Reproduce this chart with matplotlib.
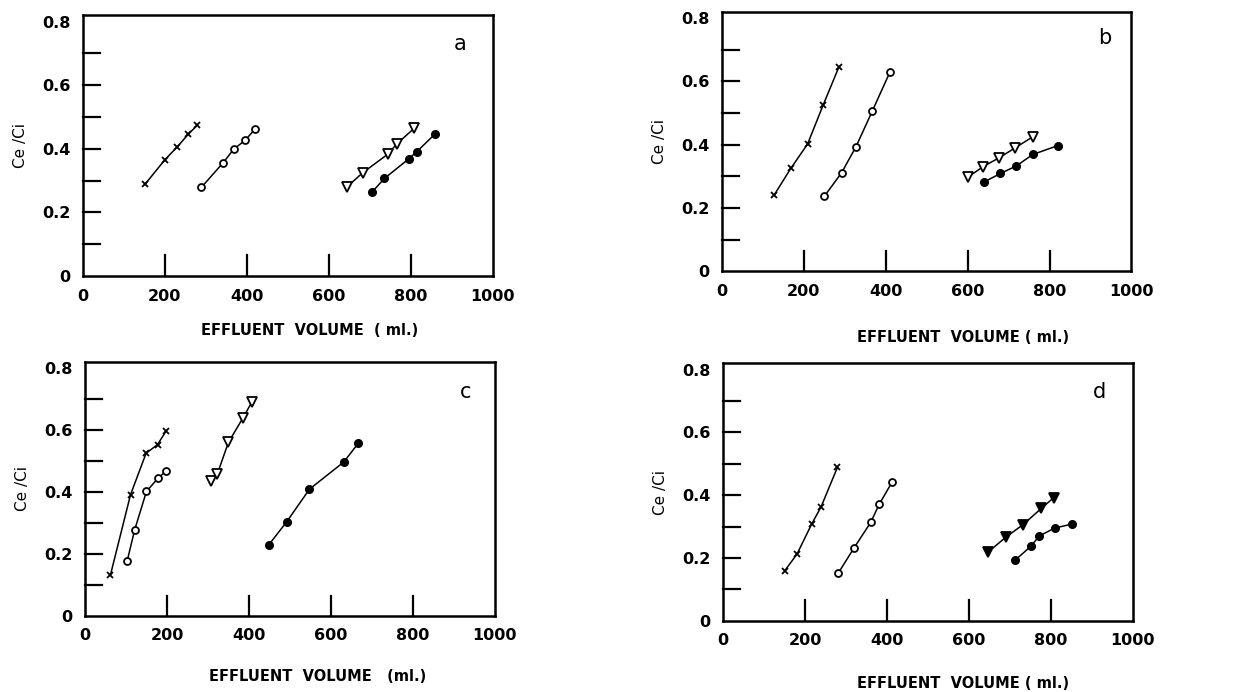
import matplotlib
matplotlib.use("Agg")
import matplotlib.pyplot as plt

# panel a
a_cross_x = [151, 200, 230, 257, 279]
a_cross_y = [0.288, 0.366, 0.406, 0.446, 0.474]
a_circ_x = [289, 342, 368, 396, 419]
a_circ_y = [0.279, 0.356, 0.399, 0.427, 0.461]
a_tri_x = [645, 683, 744, 766, 808]
a_tri_y = [0.281, 0.325, 0.383, 0.415, 0.464]
a_dot_x = [705, 736, 795, 815, 859]
a_dot_y = [0.263, 0.307, 0.368, 0.391, 0.446]

# panel b
b_cross_x = [127, 168, 209, 247, 286]
b_cross_y = [0.240, 0.325, 0.402, 0.525, 0.647]
b_circ_x = [250, 292, 327, 367, 410]
b_circ_y = [0.237, 0.311, 0.393, 0.506, 0.629]
b_tri_x = [601, 637, 676, 716, 759]
b_tri_y = [0.298, 0.330, 0.358, 0.390, 0.425]
b_dot_x = [640, 680, 719, 759, 820]
b_dot_y = [0.282, 0.309, 0.333, 0.369, 0.397]

# panel c
c_cross_x = [62, 111, 149, 177, 198]
c_cross_y = [0.132, 0.391, 0.525, 0.553, 0.597]
c_circ_x = [103, 121, 150, 178, 198]
c_circ_y = [0.178, 0.277, 0.402, 0.444, 0.468]
c_tri_x = [307, 323, 350, 386, 408]
c_tri_y = [0.437, 0.458, 0.560, 0.640, 0.692]
c_dot_x = [449, 492, 548, 632, 667]
c_dot_y = [0.230, 0.303, 0.409, 0.497, 0.557]

# panel d
d_cross_x = [150, 180, 216, 239, 279]
d_cross_y = [0.159, 0.212, 0.308, 0.363, 0.489]
d_circ_x = [281, 320, 360, 381, 412]
d_circ_y = [0.152, 0.233, 0.313, 0.371, 0.441]
d_tri_x = [647, 690, 732, 777, 807]
d_tri_y = [0.219, 0.266, 0.306, 0.358, 0.392]
d_dot_x = [713, 751, 772, 809, 852]
d_dot_y = [0.193, 0.237, 0.270, 0.295, 0.308]

x_ticks = [0, 200, 400, 600, 800, 1000]
x_tick_labels = ["0", "200", "400", "600", "800", "1000"]
y_ticks = [0, 0.2, 0.4, 0.6, 0.8]
y_tick_labels = ["0", "0.2", "0.4", "0.6", "0.8"]


def draw_panel(ax, series, letter, xlabel, letter_pos, label_pos, tri_filled=False):
    cx, cy, ox, oy, tx, ty, fx, fy = series
    ax.plot(cx, cy, color="black", lw=1.1, marker="x", ms=5, mew=1.3)
    ax.plot(ox, oy, color="black", lw=1.1, marker="o", ms=5, mfc="white", mew=1.3)
    ax.plot(tx, ty, color="black", lw=1.1, marker="v", ms=7,
            mfc="black" if tri_filled else "white", mew=1.3)
    ax.plot(fx, fy, color="black", lw=1.1, marker="o", ms=5.5, mfc="black")

    ax.set_xlim(0, 1000)
    ax.set_ylim(0, 0.82)
    for s in ax.spines.values():
        s.set_linewidth(1.8)

    # labelled ticks without marks
    ax.set_xticks(x_ticks)
    ax.set_xticklabels(x_tick_labels, fontsize=11.5, fontweight="bold")
    ax.set_yticks(y_ticks)
    ax.set_yticklabels(y_tick_labels, fontsize=11.5, fontweight="bold")
    ax.tick_params(axis="both", length=0, pad=9)

    # inward tick marks
    for xv in [200, 400, 600, 800]:
        ax.plot([xv, xv], [0, 0.065], color="black", lw=1.6, clip_on=False)
    for yv in [0.1, 0.2, 0.3, 0.4, 0.5, 0.6, 0.7]:
        ax.plot([0, 42], [yv, yv], color="black", lw=1.6, clip_on=False)

    ax.text(letter_pos[0], letter_pos[1], letter, transform=ax.transAxes,
            fontsize=15, ha="center", va="center")
    ax.set_ylabel("Ce /Ci", fontsize=11)
    ax.yaxis.set_label_coords(-0.135, 0.5)
    ax.set_xlabel(xlabel, fontsize=10.5, fontweight="bold")
    ax.xaxis.set_label_coords(label_pos[0], label_pos[1])


fig = plt.figure(figsize=(12.6, 6.92), dpi=100)
ax_a = fig.add_axes([0.0659, 0.601, 0.325, 0.377])
ax_b = fig.add_axes([0.573, 0.608, 0.325, 0.375])
ax_c = fig.add_axes([0.0675, 0.110, 0.325, 0.367])
ax_d = fig.add_axes([0.574, 0.103, 0.325, 0.372])

draw_panel(ax_a, (a_cross_x, a_cross_y, a_circ_x, a_circ_y, a_tri_x, a_tri_y, a_dot_x, a_dot_y),
           "a", "EFFLUENT  VOLUME  ( ml.)", (0.92, 0.89), (0.554, -0.18))
draw_panel(ax_b, (b_cross_x, b_cross_y, b_circ_x, b_circ_y, b_tri_x, b_tri_y, b_dot_x, b_dot_y),
           "b", "EFFLUENT  VOLUME ( ml.)", (0.935, 0.897), (0.588, -0.227))
draw_panel(ax_c, (c_cross_x, c_cross_y, c_circ_x, c_circ_y, c_tri_x, c_tri_y, c_dot_x, c_dot_y),
           "c", "EFFLUENT  VOLUME   (ml.)", (0.93, 0.88), (0.567, -0.208))
draw_panel(ax_d, (d_cross_x, d_cross_y, d_circ_x, d_circ_y, d_tri_x, d_tri_y, d_dot_x, d_dot_y),
           "d", "EFFLUENT  VOLUME ( ml.)", (0.92, 0.89), (0.585, -0.214), tri_filled=True)

fig.savefig("out.png", dpi=100)
